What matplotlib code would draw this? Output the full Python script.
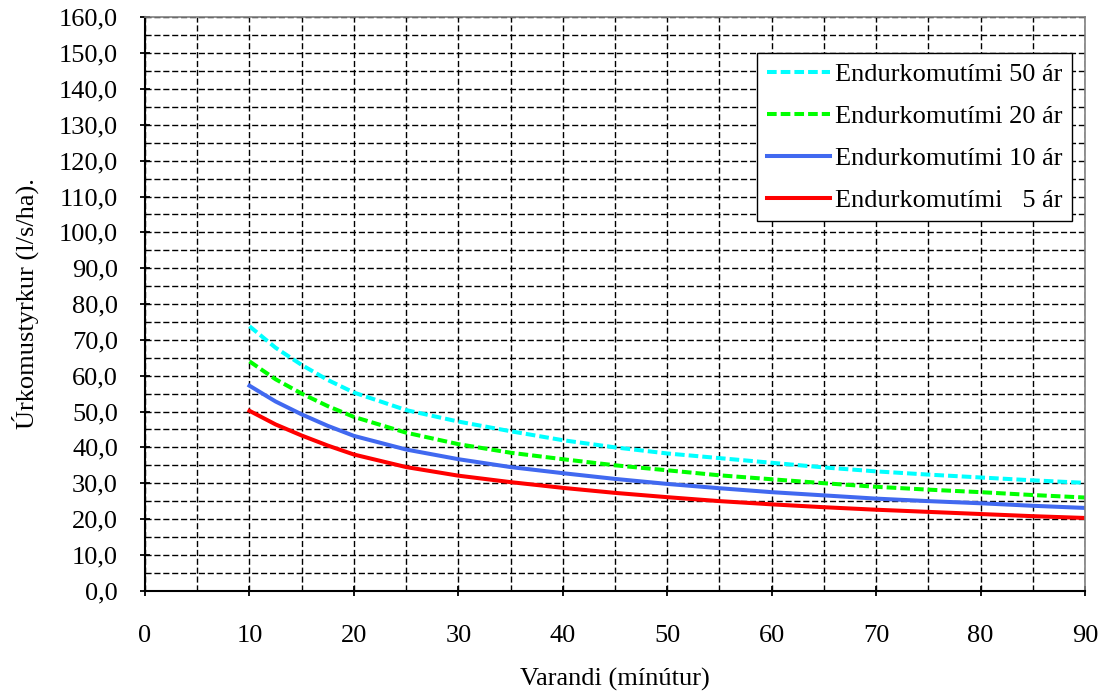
import matplotlib
matplotlib.use("Agg")
import matplotlib.pyplot as plt
from matplotlib.ticker import MultipleLocator, FuncFormatter

# Data
minutes = [10, 12.5, 15, 17.5, 20, 25, 30, 35, 40, 45, 50, 55, 60, 65, 70, 75, 80, 85, 90]
rp50 = [73.8, 67.8, 63.0, 58.8, 55.3, 50.4, 47.2, 44.5, 42.0, 40.0, 38.3, 37.0, 35.7, 34.4, 33.3, 32.4, 31.6, 30.8, 30.1]
rp20 = [64.0, 59.0, 55.0, 51.5, 48.5, 44.1, 40.9, 38.5, 36.7, 35.0, 33.6, 32.2, 31.1, 30.0, 29.0, 28.2, 27.5, 26.7, 26.0]
rp10 = [57.2, 52.8, 49.2, 46.0, 43.2, 39.4, 36.7, 34.5, 32.8, 31.2, 29.8, 28.6, 27.5, 26.6, 25.7, 25.0, 24.4, 23.7, 23.1]
rp5 = [50.2, 46.4, 43.3, 40.5, 38.0, 34.5, 32.1, 30.3, 28.7, 27.3, 26.1, 25.0, 24.1, 23.3, 22.6, 22.0, 21.4, 20.8, 20.3]
labels = ["Endurkomutími 50 ár", "Endurkomutími 20 ár",
          "Endurkomutími 10 ár", "Endurkomutími   5 ár"]
xlabel = "Varandi (mínútur)"
ylabel = "Úrkomustyrkur (l/s/ha)."

plt.rcParams['font.family'] = ['Liberation Serif', 'DejaVu Serif']
fs = 19

fig = plt.figure(figsize=(11.14, 6.93), dpi=100)
ax = fig.add_axes([0.1302, 0.1476, 0.8438, 0.8274])

lw = 2.9
dash = (0, (2.4, 1.0))
ax.plot(minutes, rp50, color='#00FFFF', lw=lw, linestyle=dash, label=labels[0])
ax.plot(minutes, rp20, color='#00FF00', lw=lw, linestyle=dash, label=labels[1])
ax.plot(minutes, rp10, color='#4169F0', lw=lw, label=labels[2])
ax.plot(minutes, rp5, color='#FF0000', lw=lw, label=labels[3])

ax.set_xlim(0, 90)
ax.set_ylim(0, 160)
ax.xaxis.set_major_locator(MultipleLocator(10))
ax.xaxis.set_minor_locator(MultipleLocator(5))
ax.yaxis.set_major_locator(MultipleLocator(10))
ax.yaxis.set_minor_locator(MultipleLocator(5))
ax.yaxis.set_major_formatter(FuncFormatter(lambda v, p: f"{v:.1f}".replace('.', ',')))
ax.xaxis.set_major_formatter(FuncFormatter(lambda v, p: f"{v:.0f}"))

ax.grid(True, which='both', color='black', lw=1.0, linestyle=(0, (4.4, 2.0)))
ax.set_axisbelow(True)

ax.tick_params(axis='both', which='major', direction='inout', length=7, width=1.3,
               labelsize=fs, colors='black')
ax.tick_params(axis='x', which='major', pad=21)
ax.tick_params(axis='y', which='major', pad=16)
ax.tick_params(axis='both', which='minor', length=0)

for s in ['left', 'bottom']:
    ax.spines[s].set_color('black')
    ax.spines[s].set_linewidth(1.5)
for s in ['top', 'right']:
    ax.spines[s].set_color('#808080')
    ax.spines[s].set_linewidth(1.2)

ax.set_xlabel(xlabel, fontsize=fs, labelpad=15)
ax.set_ylabel(ylabel, fontsize=fs, labelpad=14)

leg = ax.legend(loc='upper right', bbox_to_anchor=(0.986, 0.937), fontsize=fs,
                frameon=True, fancybox=False, edgecolor='black', framealpha=1,
                handlelength=2.4, handletextpad=0.2, labelspacing=0.7,
                borderpad=0.35, borderaxespad=0)
leg.get_frame().set_linewidth(1.0)

fig.savefig("out.png", dpi=100)
